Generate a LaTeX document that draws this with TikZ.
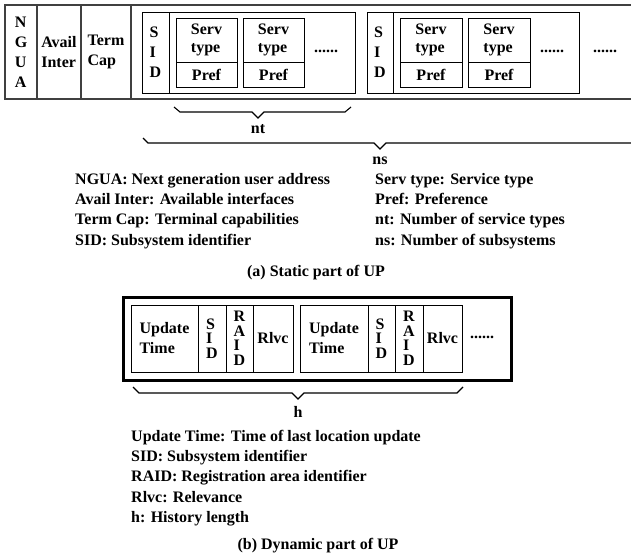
\documentclass[tikz,border=0pt]{standalone}
\usepackage{fontspec}
\setmainfont{Liberation Serif}
\usetikzlibrary{calc}
\begin{document}
\begin{tikzpicture}[x=1pt,y=-1pt,
  font=\bfseries\fontsize{16}{19}\selectfont,
  cell/.style={draw, line width=0.9pt, inner sep=0pt, outer sep=0pt, anchor=north west, align=left},
  frame/.style={draw=black!75, line width=1.8pt},
  lbl/.style={anchor=base west, inner sep=0pt},
  captxt/.style={anchor=base, inner sep=0pt},
  dots/.style={inner sep=0pt},
  bracepath/.style={line width=1.1pt, line join=miter},
  stackA/.style={font=\bfseries\fontsize{16}{20}\selectfont},
  stackB/.style={font=\bfseries\fontsize{16}{18}\selectfont},
  stackC/.style={font=\bfseries\fontsize{16}{14.5}\selectfont}
]
\useasboundingbox (0,0) rectangle (631,557);

% ---------- (a) static part ----------
\node[cell, frame, stackA, minimum width=32pt, minimum height=94pt] (ngua) at (5,5) {N\\G\\U\\A};
\node[cell, frame, stackA, minimum width=44pt, minimum height=94pt] (avail) at (37,5) {Avail\\Inter};
\node[cell, frame, stackA, minimum width=50pt, minimum height=94pt] (term) at (81,5) {Term\\Cap};
\coordinate (rt) at (631,5);
\coordinate (rb) at (631,99);
\draw[frame] (term.north east) -- (rt);
\draw[frame] (term.south east) -- (rb);

% subsystem 1
\node[cell, minimum width=213pt, minimum height=81pt] (box1) at (142,12) {};
\node[cell, stackA, minimum width=27pt, minimum height=81pt] (sid1) at (142,12) {S\\I\\D};
\node[cell, stackB, minimum width=61pt, minimum height=44pt] (st1) at (176,18) {Serv\\type};
\node[cell, minimum width=61pt, minimum height=25pt] (pf1) at (176,62) {Pref};
\node[cell, stackB, minimum width=61pt, minimum height=44pt] (st2) at (243,18) {Serv\\type};
\node[cell, minimum width=61pt, minimum height=25pt] (pf2) at (243,62) {Pref};
\node[dots] (d1) at (326,51) {......};

% subsystem 2
\node[cell, minimum width=212pt, minimum height=81pt] (box2) at (367,12) {};
\node[cell, stackA, minimum width=26pt, minimum height=81pt] (sid2) at (367,12) {S\\I\\D};
\node[cell, stackB, minimum width=62pt, minimum height=44pt] (st3) at (400,18) {Serv\\type};
\node[cell, minimum width=62pt, minimum height=25pt] (pf3) at (400,62) {Pref};
\node[cell, stackB, minimum width=62pt, minimum height=44pt] (st4) at (468,18) {Serv\\type};
\node[cell, minimum width=62pt, minimum height=25pt] (pf4) at (468,62) {Pref};
\node[dots] (d2) at (552,51) {......};
\node[dots] (d3) at (605,51) {......};

% braces
\coordinate (nt1) at (174,107);
\coordinate (nt2) at (351,107);
\coordinate (nttip) at (258,118);
\draw[bracepath] (nt1) -- ++(6,5) -- ($(nttip)+(-6,-6)$) -- (nttip) -- ($(nttip)+(6,-6)$) -- ($(nt2)+(-6,5)$) -- (nt2);
\node[captxt] (ntl) at (258,133) {nt};

\coordinate (ns1) at (143,138);
\coordinate (ns2) at (631,143);
\coordinate (nstip) at (380,149);
\draw[bracepath] (ns1) -- ++(5,5) -- ($(nstip)+(-6,-6)$) -- (nstip) -- ($(nstip)+(6,-6)$) -- (ns2);
\node[captxt] (nsl) at (380,164) {ns};

% legend (a)
\node[lbl] (la1) at (75,184) {NGUA: Next generation user address};
\node[lbl] (la2) at (75,204) {Avail Inter: Available interfaces};
\node[lbl] (la3) at (75,224.5) {Term Cap: Terminal capabilities};
\node[lbl] (la4) at (75,245) {SID: Subsystem identifier};
\node[lbl] (lb1) at (375,184) {Serv type: Service type};
\node[lbl] (lb2) at (375,204) {Pref: Preference};
\node[lbl] (lb3) at (375,224.5) {nt: Number of service types};
\node[lbl] (lb4) at (375,245) {ns: Number of subsystems};

\node[captxt] (capa) at (316,276) {(a) Static part of UP};

% ---------- (b) dynamic part ----------
\node[cell, line width=3pt, minimum width=388pt, minimum height=83pt] (dyn) at (123,297) {};

\node[cell, stackA, minimum width=67pt, minimum height=67pt] (ut1) at (131,305) {Update\\Time};
\node[cell, stackC, minimum width=28pt, minimum height=67pt] (sd1) at (198,305) {S\\I\\D};
\node[cell, stackC, minimum width=27pt, minimum height=67pt] (ra1) at (226,305) {R\\A\\I\\D};
\node[cell, minimum width=40pt, minimum height=67pt] (rl1) at (253,305) {Rlvc};

\node[cell, stackA, minimum width=68pt, minimum height=67pt] (ut2) at (300,305) {Update\\Time};
\node[cell, stackC, minimum width=27pt, minimum height=67pt] (sd2) at (368,305) {S\\I\\D};
\node[cell, stackC, minimum width=28pt, minimum height=67pt] (ra2) at (395,305) {R\\A\\I\\D};
\node[cell, minimum width=39pt, minimum height=67pt] (rl2) at (423,305) {Rlvc};
\node[dots] (d4) at (482,337) {......};

\coordinate (h1) at (133,387);
\coordinate (h2) at (463,387);
\coordinate (htip) at (298,399);
\draw[bracepath] (h1) -- ++(6,6) -- ($(htip)+(-6,-6)$) -- (htip) -- ($(htip)+(6,-6)$) -- ($(h2)+(-6,6)$) -- (h2);
\node[captxt] (hl) at (298,417) {h};

\node[lbl] (lc1) at (131,441.5) {Update Time: Time of last location update};
\node[lbl] (lc2) at (131,461.5) {SID: Subsystem identifier};
\node[lbl] (lc3) at (131,481.5) {RAID: Registration area identifier};
\node[lbl] (lc4) at (131,502) {Rlvc: Relevance};
\node[lbl] (lc5) at (131,522) {h: History length};

\node[captxt] (capb) at (318,549) {(b) Dynamic part of UP};
\end{tikzpicture}
\end{document}
